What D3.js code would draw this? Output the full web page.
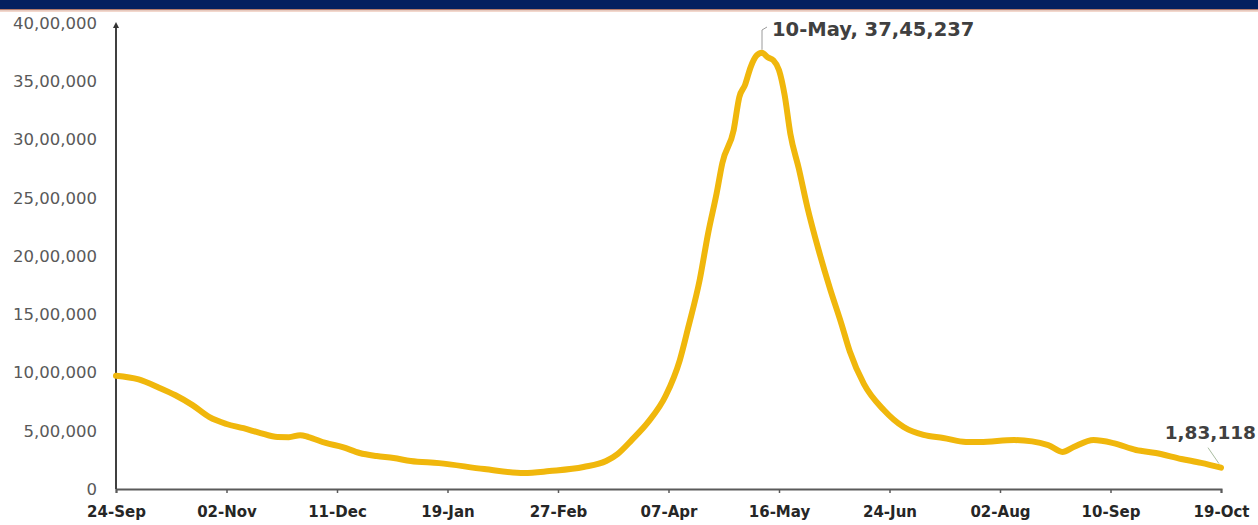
<!DOCTYPE html>
<html>
<head>
<meta charset="utf-8">
<script src="https://cdn.jsdelivr.net/npm/d3@7"></script>
<style>
  html, body { margin: 0; padding: 0; background: #ffffff; }
  svg { display: block; }
</style>
</head>
<body>
<svg id="chart" width="1258" height="525"></svg>
<script>
// Active cases, 24 Sep 2020 – 19 Oct 2021
const dates = ["2020-09-24","2020-10-02","2020-10-09","2020-10-15","2020-10-21","2020-10-27","2020-11-02","2020-11-08","2020-11-14","2020-11-20","2020-11-24","2020-11-28","2020-12-01","2020-12-07","2020-12-13","2020-12-19","2020-12-25","2020-12-31","2021-01-06","2021-01-16","2021-02-01","2021-02-15","2021-02-24","2021-03-08","2021-03-16","2021-03-20","2021-03-25","2021-03-31","2021-04-06","2021-04-11","2021-04-14","2021-04-18","2021-04-21","2021-04-24","2021-04-26","2021-04-30","2021-05-02","2021-05-04","2021-05-06","2021-05-08","2021-05-10","2021-05-12","2021-05-14","2021-05-16","2021-05-18","2021-05-20","2021-05-23","2021-05-26","2021-05-30","2021-06-03","2021-06-07","2021-06-10","2021-06-15","2021-06-22","2021-06-29","2021-07-06","2021-07-13","2021-07-21","2021-07-26","2021-08-07","2021-08-19","2021-08-24","2021-08-28","2021-09-04","2021-09-11","2021-09-19","2021-09-26","2021-10-05","2021-10-12","2021-10-19"];
const activeCases = [972000,940000,872000,805000,720000,616000,558000,522000,480000,446000,445000,462000,446000,395000,360000,309000,283000,266000,240000,222000,171000,137000,154000,189000,240000,300000,420000,580000,800000,1107000,1390000,1794000,2197000,2540000,2798000,3081000,3365000,3468000,3622000,3718000,3745237,3705000,3680000,3596000,3380000,3050000,2750000,2420000,2050000,1720000,1420000,1180000,900000,678000,532000,464000,438000,404000,403000,420000,377000,318000,360000,420000,394000,335000,309000,258000,224000,183118];

const xTickDates = ["2020-09-24","2020-11-02","2020-12-11","2021-01-19","2021-02-27","2021-04-07","2021-05-16","2021-06-24","2021-08-02","2021-09-10","2021-10-19"];
const yTickValues = [0,500000,1000000,1500000,2000000,2500000,3000000,3500000,4000000];

const parse = d3.timeParse("%Y-%m-%d");
const fmtDay = d3.timeFormat("%d-%b");

// Indian digit grouping: 37,45,237
function formatIN(n) {
  const s = String(Math.round(n));
  if (s.length <= 3) return s;
  const last3 = s.slice(-3);
  let rest = s.slice(0, -3);
  const parts = [];
  while (rest.length > 2) { parts.unshift(rest.slice(-2)); rest = rest.slice(0, -2); }
  if (rest.length) parts.unshift(rest);
  return parts.join(",") + "," + last3;
}

const data = dates.map((d, i) => ({ date: parse(d), value: activeCases[i] }));

const svg = d3.select("#chart");
const W = 1258, H = 525;
const x0 = 116, x1 = 1221, yBottom = 489, yTop = 23;

// Header band
svg.append("rect").attr("x", 0).attr("y", 0).attr("width", W).attr("height", 9).attr("fill", "#03205f");
svg.append("rect").attr("x", 0).attr("y", 9).attr("width", W).attr("height", 1.5).attr("fill", "#b07a6a");
svg.append("rect").attr("x", 0).attr("y", 10.5).attr("width", W).attr("height", 1.5).attr("fill", "#f3d7cc");

const x = d3.scaleTime()
  .domain([parse(xTickDates[0]), parse(xTickDates[xTickDates.length - 1])])
  .range([x0, x1]);
const y = d3.scaleLinear().domain([0, 4000000]).range([yBottom, yTop]);

// Y axis labels (no tick marks)
const yAxis = d3.axisLeft(y).tickValues(yTickValues).tickSize(0).tickPadding(19).tickFormat(formatIN);
const gy = svg.append("g").attr("transform", `translate(${x0},0)`).call(yAxis);
gy.select(".domain").remove();
gy.selectAll("text")
  .attr("font-family", "DejaVu Sans, sans-serif")
  .attr("font-size", 16.5)
  .attr("fill", "#595959");

// X axis
const xAxis = d3.axisBottom(x).tickValues(xTickDates.map(parse)).tickSize(4).tickPadding(13).tickFormat(fmtDay);
const gx = svg.append("g").attr("transform", `translate(0,${yBottom})`).call(xAxis);
gx.select(".domain").attr("stroke", "#5a5a5a").attr("stroke-width", 2);
gx.selectAll(".tick line").attr("stroke", "#5a5a5a").attr("stroke-width", 1.5);
gx.selectAll("text")
  .attr("font-family", "DejaVu Sans, sans-serif")
  .attr("font-size", 15)
  .attr("font-weight", "bold")
  .attr("fill", "#262626");

// Y axis line with arrow head
svg.append("defs").append("marker")
  .attr("id", "arrow").attr("viewBox", "0 0 10 10").attr("refX", 5).attr("refY", 5)
  .attr("markerWidth", 3).attr("markerHeight", 3).attr("orient", "auto")
  .append("path").attr("d", "M0,0 L10,5 L0,10 z").attr("fill", "#333");
svg.append("line")
  .attr("x1", x0).attr("x2", x0).attr("y1", yBottom).attr("y2", yTop + 2)
  .attr("stroke", "#404040").attr("stroke-width", 2)
  .attr("marker-end", "url(#arrow)");

// Series line
const line = d3.line().x(d => x(d.date)).y(d => y(d.value)).curve(d3.curveMonotoneX);
svg.append("path").datum(data)
  .attr("d", line)
  .attr("fill", "none")
  .attr("stroke", "#f0b70c")
  .attr("stroke-width", 6)
  .attr("stroke-linejoin", "round")
  .attr("stroke-linecap", "round");

// Peak annotation
const peak = data[d3.maxIndex(data, d => d.value)];
const px = x(peak.date), py = y(peak.value);
svg.append("path")
  .attr("d", `M${px},${py - 3} L${px},${30} L${px + 5},${27}`)
  .attr("fill", "none").attr("stroke", "#9a9a9a").attr("stroke-width", 1);
svg.append("text")
  .attr("x", px + 10).attr("y", 36)
  .attr("font-family", "DejaVu Sans, sans-serif")
  .attr("font-size", 19.5).attr("font-weight", "bold").attr("fill", "#404040")
  .text(fmtDay(peak.date) + ", " + formatIN(peak.value));

// Latest value annotation
const last = data[data.length - 1];
const lx = x(last.date), ly = y(last.value);
svg.append("line")
  .attr("x1", lx - 13).attr("y1", ly - 20).attr("x2", lx - 2).attr("y2", ly - 4)
  .attr("stroke", "#a9bca0").attr("stroke-width", 1);
svg.append("text")
  .attr("x", 1256).attr("y", 439).attr("text-anchor", "end")
  .attr("font-family", "DejaVu Sans, sans-serif")
  .attr("font-size", 18.5).attr("font-weight", "bold").attr("fill", "#404040")
  .text(formatIN(last.value));
</script>
</body>
</html>
